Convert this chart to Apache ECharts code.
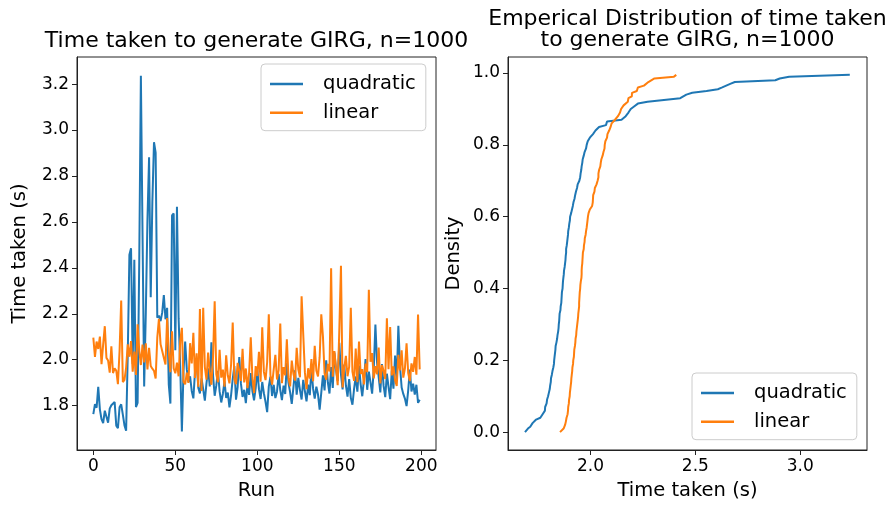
<!DOCTYPE html>
<html>
<head>
<meta charset="utf-8">
<script src="https://cdn.jsdelivr.net/npm/echarts@6/dist/echarts.min.js"></script>
<style>
html,body{margin:0;padding:0;background:#fff;}
#c{width:891px;height:507px;}
</style>
</head>
<body>
<div id="c"></div>
<script>
// Time taken (s) per run (runs 0..199)
const quadratic = [
  1.763,1.807,1.791,1.882,1.784,1.741,1.724,1.778,1.783,1.726,
  1.787,1.802,1.798,1.816,1.713,1.702,1.793,1.806,1.761,1.714,
  1.691,2.024,2.457,2.485,1.982,2.435,1.794,1.812,2.428,3.236,
  2.553,1.884,2.203,2.607,2.881,2.272,2.688,2.947,2.902,2.183,
  2.192,2.168,2.205,2.281,2.176,2.226,1.893,1.809,2.628,2.637,
  2.041,2.666,2.181,1.968,1.688,1.952,2.079,1.958,1.903,1.928,
  1.864,1.832,1.947,1.991,1.878,1.853,1.919,1.871,1.822,1.898,
  1.962,1.884,2.076,1.931,1.843,1.889,1.951,1.862,1.814,1.852,
  1.906,1.834,1.857,1.793,1.846,1.917,1.972,1.826,1.881,2.012,
  1.897,1.838,1.869,1.811,1.893,1.847,1.942,1.864,1.823,1.876,
  1.958,1.872,1.829,1.903,1.854,1.817,1.772,1.884,1.926,1.842,
  1.891,1.833,1.861,1.938,1.867,1.824,1.887,1.851,1.986,1.899,
  1.858,1.808,1.879,1.954,1.848,1.921,1.868,1.827,1.912,1.863,
  1.819,1.892,1.846,1.963,1.874,1.831,1.883,1.849,1.783,1.857,
  1.932,1.866,1.997,1.902,1.853,1.968,1.877,2.031,1.956,1.908,
  2.074,1.936,1.871,1.979,1.888,1.839,1.916,1.834,1.804,1.873,
  1.927,1.861,1.974,1.894,1.841,1.913,2.003,1.869,1.948,1.901,
  1.852,1.961,2.153,1.987,1.924,1.858,1.981,1.886,1.837,1.939,
  1.882,1.828,1.953,1.874,2.018,1.909,2.148,1.971,1.879,1.851,
  1.831,1.798,1.867,1.957,1.862,1.896,1.848,1.891,1.812,1.826
];
const linear = [
  2.096,2.012,2.079,2.047,2.101,1.981,2.067,2.146,2.008,1.997,
  1.944,2.058,1.942,1.962,1.953,1.894,2.038,2.258,1.903,1.912,
  1.966,2.067,2.013,2.081,1.948,2.036,1.934,2.154,2.041,1.977,
  2.066,1.988,2.071,1.958,2.052,1.973,1.961,1.952,1.918,2.096,
  2.178,2.068,2.062,2.009,1.979,2.181,2.038,1.946,2.124,1.963,
  1.941,1.987,1.928,2.082,2.139,1.904,1.893,1.944,1.899,2.072,
  1.984,2.117,1.921,2.028,1.882,2.221,1.864,2.226,1.968,1.913,
  2.031,1.949,1.891,2.013,2.255,1.937,1.902,2.043,1.922,1.957,
  1.883,2.019,1.931,1.897,1.978,2.162,1.917,1.894,1.986,1.951,
  1.908,2.048,1.901,1.962,1.876,1.943,2.098,1.923,1.855,1.972,
  1.929,2.034,1.904,2.141,1.947,1.911,1.989,2.198,1.933,1.892,
  1.958,2.021,1.914,1.954,2.158,1.898,1.968,1.932,2.089,1.921,
  1.884,1.996,1.939,1.909,2.052,1.957,1.924,2.276,2.282,1.946,
  1.872,1.963,1.918,2.003,1.906,2.061,1.952,1.927,2.011,2.198,
  2.103,1.941,1.913,1.982,1.949,2.398,1.926,2.038,1.961,1.889,
  2.131,2.409,1.879,1.964,2.017,1.928,1.969,2.226,1.948,1.908,
  2.049,1.902,2.079,1.938,1.959,1.893,1.983,1.946,2.305,1.991,
  2.029,1.919,1.972,1.937,2.053,1.897,1.977,1.951,1.916,2.181,
  1.959,2.142,1.932,1.971,1.911,1.886,2.021,1.954,2.041,1.922,
  1.963,2.071,1.942,1.907,1.984,1.947,2.012,1.935,2.197,1.958
];
const seriesNames = ['quadratic', 'linear'];
const runTicks = [0, 50, 100, 150, 200];
const timeTicks = [1.8, 2.0, 2.2, 2.4, 2.6, 2.8, 3.0, 3.2];
const ecdfTimeTicks = [2.0, 2.5, 3.0];
const densityTicks = [0, 0.2, 0.4, 0.6, 0.8, 1.0];

const FONT = 'DejaVu Sans';
const blue = '#1f77b4', orange = '#ff7f0e';

function runSeries(arr) { return arr.map((v, i) => [i, v]); }
function ecdf(arr) {
  const s = arr.slice().sort((a, b) => a - b);
  return s.map((v, i) => [v, i / s.length]);
}

function axisCommon(ticks, digits) {
  return {
    axisLine: { show: true, onZero: false, lineStyle: { color: '#222', width: 1 } },
    axisTick: { show: true, inside: false, length: 5, customValues: ticks, lineStyle: { color: '#222', width: 1 } },
    axisLabel: { show: true, customValues: ticks, color: '#000', fontFamily: FONT, fontSize: 17,
      formatter: v => Number(v).toFixed(digits) },
    splitLine: { show: false },
    nameTextStyle: { color: '#000', fontFamily: FONT, fontSize: 19.5 }
  };
}

const chart = echarts.init(document.getElementById('c'), null, { renderer: 'canvas' });
const legendCommon = {
  orient: 'vertical',
  data: seriesNames,
  icon: 'rect',
  itemWidth: 33,
  itemHeight: 2.5,
  itemGap: 6.7,
  backgroundColor: 'rgba(255,255,255,0.8)',
  borderColor: '#cccccc',
  borderWidth: 1,
  borderRadius: 4,
  padding: [9, 10, 7, 9],
  selectedMode: false,
  textStyle: { color: '#000', fontFamily: FONT, fontSize: 19.5, lineHeight: 22, padding: [0, 0, 0, 15] }
};

chart.setOption({
  animation: false,
  backgroundColor: '#fff',
  title: [
    { text: 'Time taken to generate GIRG, n=1000', left: 256.5, top: 30.5, textAlign: 'center', padding: 0,
      textStyle: { fontFamily: FONT, fontSize: 22, fontWeight: 'normal', color: '#000' } },
    { text: 'Emperical Distribution of time taken\nto generate GIRG, n=1000', left: 687.5, top: 9, textAlign: 'center', padding: 0,
      textStyle: { fontFamily: FONT, fontSize: 22, fontWeight: 'normal', color: '#000', lineHeight: 21 } }
  ],
  legend: [
    Object.assign({}, legendCommon, { left: 261, top: 64 }),
    Object.assign({}, legendCommon, { left: 692, top: 373 })
  ],
  grid: [
    { left: 77, top: 57, width: 359, height: 393, show: true, borderColor: '#222', borderWidth: 1, backgroundColor: 'transparent' },
    { left: 508, top: 57, width: 359, height: 393, show: true, borderColor: '#222', borderWidth: 1, backgroundColor: 'transparent' }
  ],
  xAxis: [
    Object.assign(axisCommon(runTicks, 0), { type: 'value', gridIndex: 0, min: -9.95, max: 208.95,
      name: 'Run', nameLocation: 'middle', nameGap: 31 }),
    Object.assign(axisCommon(ecdfTimeTicks, 1), { type: 'value', gridIndex: 1, min: 1.607, max: 3.318,
      name: 'Time taken (s)', nameLocation: 'middle', nameGap: 31 })
  ],
  yAxis: [
    Object.assign(axisCommon(timeTicks, 1), { type: 'value', gridIndex: 0, min: 1.607, max: 3.318,
      name: 'Time taken (s)', nameLocation: 'middle', nameGap: 47 }),
    Object.assign(axisCommon(densityTicks, 1), { type: 'value', gridIndex: 1, min: -0.04975, max: 1.04475,
      name: 'Density', nameLocation: 'middle', nameGap: 44 })
  ],
  series: [
    { name: 'quadratic', type: 'line', xAxisIndex: 0, yAxisIndex: 0, data: runSeries(quadratic),
      showSymbol: false, symbol: 'none', lineStyle: { color: blue, width: 2 }, itemStyle: { color: blue }, z: 2 },
    { name: 'linear', type: 'line', xAxisIndex: 0, yAxisIndex: 0, data: runSeries(linear),
      showSymbol: false, symbol: 'none', lineStyle: { color: orange, width: 2 }, itemStyle: { color: orange }, z: 3 },
    { name: 'quadratic', type: 'line', xAxisIndex: 1, yAxisIndex: 1, data: ecdf(quadratic),
      showSymbol: false, symbol: 'none', lineStyle: { color: blue, width: 2 }, itemStyle: { color: blue }, z: 2 },
    { name: 'linear', type: 'line', xAxisIndex: 1, yAxisIndex: 1, data: ecdf(linear),
      showSymbol: false, symbol: 'none', lineStyle: { color: orange, width: 2 }, itemStyle: { color: orange }, z: 3 }
  ]
});
</script>
</body>
</html>
